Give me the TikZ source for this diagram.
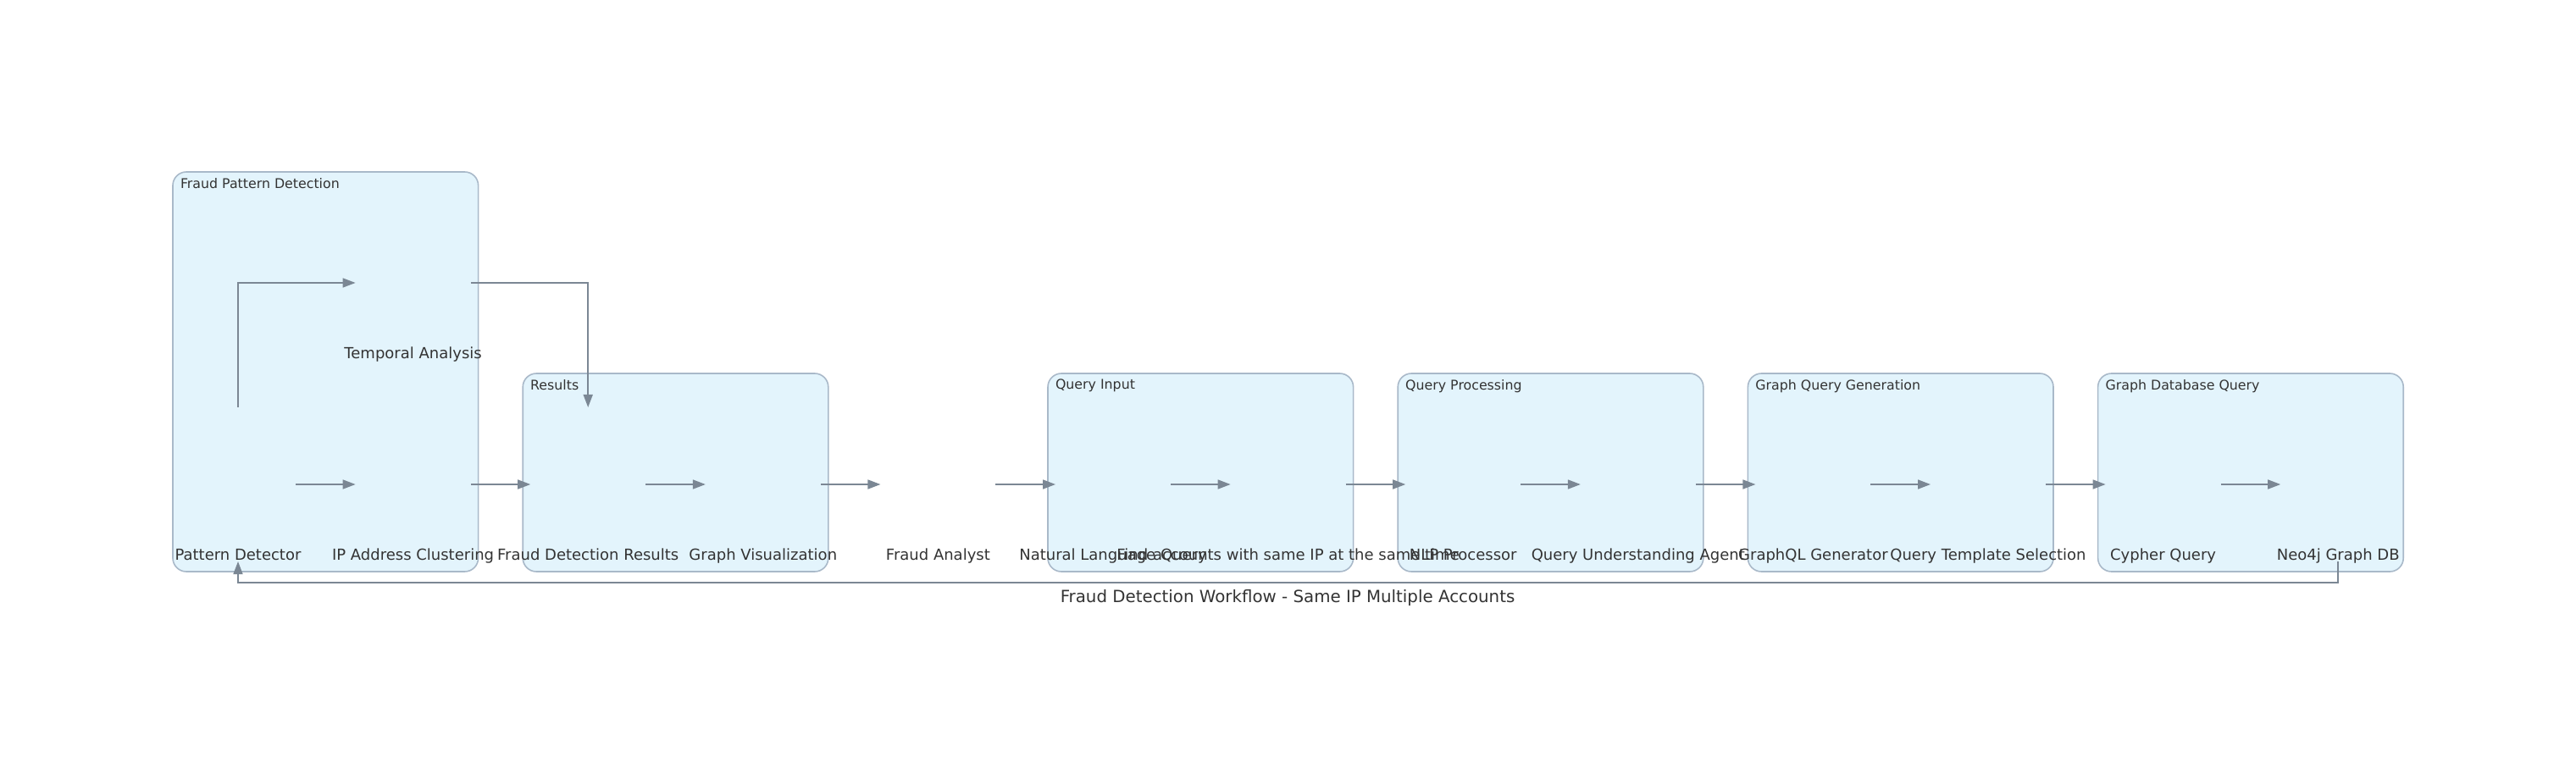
\documentclass[tikz,border=0pt]{standalone}
\usepackage{fontspec}
\setmainfont{DejaVu Sans}
\usepackage{tikz}
\usetikzlibrary{positioning,fit,backgrounds,arrows.meta}
\definecolor{grpfill}{HTML}{E3F4FC}
\definecolor{grpline}{HTML}{A9B9C9}
\definecolor{edgegray}{HTML}{7B8794}
\definecolor{txtgray}{HTML}{333333}

\begin{document}
\begin{tikzpicture}[
		stage/.style={ % 空白节点, 名称贴在底部
			minimum width=68pt, minimum height=91pt, inner sep=0pt, outer sep=0pt,
			label={[anchor=south,inner sep=0pt,text height=7pt,text depth=0.5pt,font=\fontsize{9}{10}\selectfont,text=txtgray]south:#1}
		},
		group/.style={ % 分组的圆角框
			draw=grpline, line width=0.8pt, fill=grpfill, rounded corners=8pt,
			inner xsep=4.5pt, inner ysep=6pt,
			label={[anchor=north west,inner xsep=4.7pt,inner ysep=3.8pt,font=\fontsize{7.9}{9}\selectfont,text=txtgray]north west:#1}
		},
		flow/.style={draw=edgegray, line width=0.8pt, -{Triangle[length=7.5pt,width=5.5pt]}}
		]
		\useasboundingbox (0,0) rectangle (1520.5pt,-457pt);
		
		%% 主流程
		\node[stage=Pattern Detector] (detector) at (140.5pt,-286pt) {};
		\node[stage=IP Address Clustering, right=35.3pt of detector] (clustering) {};
		\node[stage=Temporal Analysis, above=28pt of clustering] (temporal) {};
		\node[stage=Fraud Detection Results, right=35.3pt of clustering] (results) {};
		\node[stage=Graph Visualization, right=35.3pt of results] (visual) {};
		\node[stage=Fraud Analyst, right=35.3pt of visual] (analyst) {};
		\node[stage=Natural Language Query, right=35.3pt of analyst] (nlquery) {};
		\node[stage=Find accounts with same IP at the same time, right=35.3pt of nlquery] (sameip) {};
		\node[stage=NLP Processor, right=35.3pt of sameip] (nlp) {};
		\node[stage=Query Understanding Agent, right=35.3pt of nlp] (understanding) {};
		\node[stage=GraphQL Generator, right=35.3pt of understanding] (graphql) {};
		\node[stage=Query Template Selection, right=35.3pt of graphql] (template) {};
		\node[stage=Cypher Query, right=35.3pt of template] (cypher) {};
		\node[stage=Neo4j Graph DB, right=35.3pt of cypher] (neo4j) {};
		
		%% 分组
		\begin{scope}[on background layer]
			\node[group=Fraud Pattern Detection, fit={([yshift=14pt]temporal.north) (detector) (clustering)}] (gpattern) {};
			\node[group=Results, fit={([yshift=14pt]results.north) (results) (visual)}] (gresults) {};
			\node[group=Query Input, fit={([yshift=14pt]nlquery.north) (nlquery) (sameip)}] (ginput) {};
			\node[group=Query Processing, fit={([yshift=14pt]nlp.north) (nlp) (understanding)}] (gprocess) {};
			\node[group=Graph Query Generation, fit={([yshift=14pt]graphql.north) (graphql) (template)}] (ggenerate) {};
			\node[group=Graph Database Query, fit={([yshift=14pt]cypher.north) (cypher) (neo4j)}] (gdatabase) {};
		\end{scope}
		
		% 连线
		\draw[flow] (detector) -- (clustering);
		\draw[flow] (detector.north) |- (temporal.west);
		\draw[flow] (clustering) -- (results);
		\draw[flow] (temporal.east) -| (results.north);
		\draw[flow] (results) -- (visual);
		\draw[flow] (visual) -- (analyst);
		\draw[flow] (analyst) -- (nlquery);
		\draw[flow] (nlquery) -- (sameip);
		\draw[flow] (sameip) -- (nlp);
		\draw[flow] (nlp) -- (understanding);
		\draw[flow] (understanding) -- (graphql);
		\draw[flow] (graphql) -- (template);
		\draw[flow] (template) -- (cypher);
		\draw[flow] (cypher) -- (neo4j);
		% 回到 Pattern Detector
		\draw[flow] (neo4j.south) -- ++(0,-12.5pt) -| (detector.south);
		
		\node[font=\fontsize{9.9}{11}\selectfont, text=txtgray] (title) at (760pt,-353pt) {Fraud Detection Workflow - Same IP Multiple Accounts};
	\end{tikzpicture}
\end{document}
